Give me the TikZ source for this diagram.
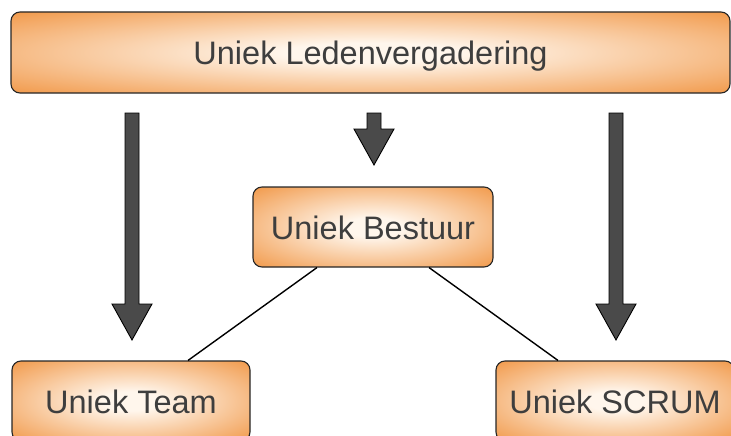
\documentclass[tikz,border=0pt]{standalone}
\usepackage{fontspec}
\setmainfont{Liberation Sans}
\usetikzlibrary{calc}
\definecolor{oranje}{RGB}{241,152,72}
\definecolor{licht}{RGB}{255,246,236}
\definecolor{pijlgrijs}{RGB}{74,74,74}
\definecolor{tekstgrijs}{RGB}{62,62,62}
\pgfdeclareradialshading{gloed}{\pgfpoint{0bp}{0bp}}{color(0bp)=(licht); color(6bp)=(licht); color(36bp)=(oranje); color(50bp)=(oranje)}
\tikzset{
  blok/.style={draw=black!85, line width=1.1pt, rounded corners=9pt,
    shading=gloed, text=tekstgrijs, font=\fontsize{32.5}{38}\selectfont,
    text height=25pt, text depth=0pt},
  pijl/.style={draw=black, line width=0.9pt, fill=pijlgrijs, line join=miter}
}
\def\dikpijl(#1)(#2){\draw[pijl] ($(#1)+(-7,0)$) -- ($(#2)+(-7,-36)$) -- ($(#2)+(-20,-36)$) -- (#2) -- ($(#2)+(20,-36)$) -- ($(#2)+(7,-36)$) -- ($(#1)+(7,0)$) -- cycle;}

\begin{document}
\begin{tikzpicture}[x=1pt,y=-1pt]
		%%%%% START %%%%%
		\path[use as bounding box] (0,0) rectangle (731,436);
		\clip (0,0) rectangle (731,436);
		
		\node[blok, minimum width=719pt, minimum height=81pt] (leden) at (370.5,52.5) {Uniek Ledenvergadering};
		\node[blok, minimum width=240pt, minimum height=80pt] (bestuur) at (373,227) {Uniek Bestuur};
		\node[blok, minimum width=238pt, minimum height=80pt] (team) at (131,401) {Uniek Team};
		\node[blok, minimum width=238pt, minimum height=80pt] (scrum) at (615,401) {Uniek SCRUM};
		
		\coordinate (links-start) at (132,113);
		\coordinate (links-punt) at (132,340);
		\coordinate (midden-start) at (374,113);
		\coordinate (midden-punt) at (374,165);
		\coordinate (rechts-start) at (616,113);
		\coordinate (rechts-punt) at (616,340);
		
		\dikpijl(links-start)(links-punt)
		\dikpijl(midden-start)(midden-punt)
		\dikpijl(rechts-start)(rechts-punt)
		
		\draw[line width=1.4pt] ($(bestuur.south)+(-56,0)$) -- ($(team.north)+(57,0)$);
		\draw[line width=1.4pt] ($(bestuur.south)+(56,0)$) -- ($(scrum.north)+(-57,0)$);
		%%%%% END %%%%%
\end{tikzpicture}
\end{document}
